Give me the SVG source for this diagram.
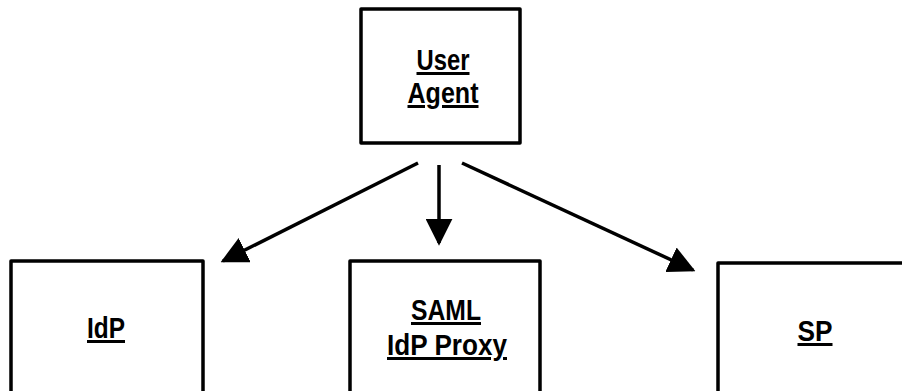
<svg xmlns="http://www.w3.org/2000/svg" width="902" height="391" viewBox="0 0 902 391">
  <style>
    .box { fill: #fff; stroke: #000; stroke-width: 3.5; stroke-linejoin: round; }
    .lbl { font-family: "Liberation Sans", Arial, sans-serif; font-weight: bold; font-size: 30px; fill: #000; text-anchor: middle; text-decoration: underline; }
    .conn { stroke: #000; stroke-width: 3.5; fill: none; }
  </style>
  <defs>
    <marker id="arrow" viewBox="0 0 10 10" refX="9" refY="5" markerWidth="27" markerHeight="27" markerUnits="userSpaceOnUse" orient="auto">
      <path d="M0,0 L10,5 L0,10 Z" fill="#000"/>
    </marker>
  </defs>
  <rect width="902" height="391" fill="#fff"/>

  <!-- labels are narrowed to a condensed bold face via textLength -->
  <g id="user-agent">
    <rect class="box" x="361" y="9" width="159" height="134"/>
    <text class="lbl" x="443" y="70" textLength="53" lengthAdjust="spacingAndGlyphs">User</text>
    <text class="lbl" x="443" y="103" textLength="71" lengthAdjust="spacingAndGlyphs">Agent</text>
  </g>

  <g id="idp">
    <rect class="box" x="11" y="261" width="192" height="160"/>
    <text class="lbl" x="106" y="338" textLength="38" lengthAdjust="spacingAndGlyphs">IdP</text>
  </g>

  <g id="saml-idp-proxy">
    <rect class="box" x="350" y="261" width="190" height="160"/>
    <text class="lbl" x="446" y="320" textLength="70" lengthAdjust="spacingAndGlyphs">SAML</text>
    <text class="lbl" x="447" y="355" textLength="120" lengthAdjust="spacingAndGlyphs">IdP Proxy</text>
  </g>

  <g id="sp">
    <rect class="box" x="718" y="263" width="196" height="160"/>
    <text class="lbl" x="815" y="341" textLength="35" lengthAdjust="spacingAndGlyphs">SP</text>
  </g>

  <g id="connectors">
    <line class="conn" x1="418" y1="163" x2="223" y2="261" marker-end="url(#arrow)"/>
    <line class="conn" x1="439" y1="165" x2="439" y2="243" marker-end="url(#arrow)"/>
    <line class="conn" x1="462" y1="163" x2="693" y2="270" marker-end="url(#arrow)"/>
  </g>
</svg>
